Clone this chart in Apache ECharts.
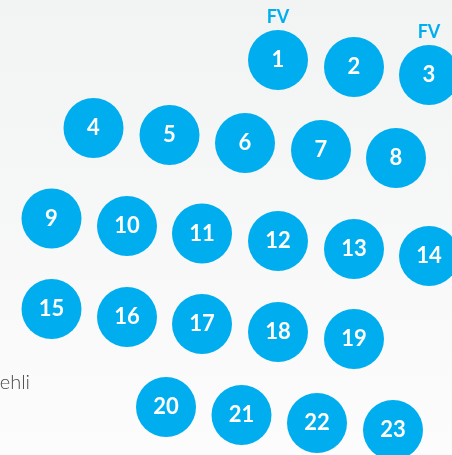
<!DOCTYPE html>
<html>
<head>
<meta charset="utf-8">
<script src="https://cdn.jsdelivr.net/npm/echarts@6/dist/echarts.min.js"></script>
<style>
html,body{margin:0;padding:0;}
#c{width:452px;height:455px;background:linear-gradient(to bottom,#f2f3f3 0%,#fcfcfc 100%);}
</style>
</head>
<body>
<div id="c"></div>
<script>
// Seat numbers and their positions in the seating-plan coordinate system
const seats = [1,2,3,4,5,6,7,8,9,10,11,12,13,14,15,16,17,18,19,20,21,22,23];
const seatX = [278,354,429, 93.5,169.5,245,321,396, 51.5,127,202,278,354,429, 51.5,127,202,278,354, 166,241.5,317,393];
const seatY = [60,67,75, 128,135,143,150,158, 218.5,226,233.5,241,249,256, 309,317,324,332,339, 407,415,423,430];
const seatTags = {1:'FV', 3:'FV'};
const sideLabel = 'ehli';

const chart = echarts.init(document.getElementById('c'), null, {renderer:'canvas'});
const FONT = 'Lato, "Noto Sans", sans-serif';
const BLUE = '#00aeef';

const seatData = seats.map((s,i)=>({value:[seatX[i], seatY[i]], name:String(s)}));
const tagData = seats.map((s,i)=>seatTags[s] ? {value:[seatX[i], seatY[i]], name:seatTags[s]} : null).filter(Boolean);

chart.setOption({
  backgroundColor:'transparent',
  animation:false,
  grid:{left:0,right:0,top:0,bottom:0},
  xAxis:{type:'value',min:0,max:452,show:false},
  yAxis:{type:'value',min:0,max:455,inverse:true,show:false},
  series:[
    {
      type:'scatter',
      symbol:'circle',
      symbolSize:60,
      itemStyle:{color:BLUE,opacity:1},
      emphasis:{disabled:true},
      label:{show:true,position:'inside',formatter:p=>p.name,color:'#ffffff',fontSize:22,fontWeight:'bold',fontFamily:FONT},
      data:seatData
    },
    {
      type:'scatter',
      symbol:'circle',
      symbolSize:60,
      itemStyle:{color:'rgba(0,0,0,0)',opacity:1},
      emphasis:{disabled:true},
      label:{show:true,position:'top',distance:4,formatter:p=>p.name,color:BLUE,fontSize:18,fontWeight:'bold',fontFamily:FONT},
      data:tagData,
      z:3
    }
  ],
  graphic:[
    {type:'text',x:30,y:393,style:{text:sideLabel,align:'right',verticalAlign:'bottom',fill:'#4a4a4a',fontSize:20,fontWeight:300,fontFamily:FONT}}
  ]
});
</script>
</body>
</html>
